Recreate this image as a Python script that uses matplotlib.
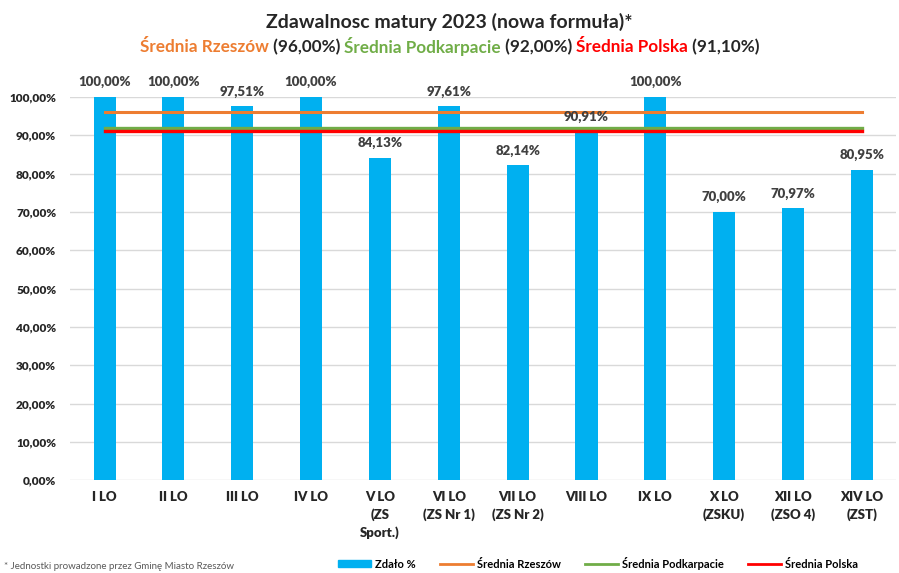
import matplotlib
matplotlib.use('Agg')
from matplotlib import pyplot as plt
from matplotlib.patches import Patch
from matplotlib.lines import Line2D
import numpy as np

schools = ["I LO", "II LO", "III LO", "IV LO", "V LO\n(ZS\nSport.)", "VI LO\n(ZS Nr 1)",
           "VII LO\n(ZS Nr 2)", "VIII LO", "IX LO", "X LO\n(ZSKU)", "XII LO\n(ZSO 4)",
           "XIV LO\n(ZST)"]
pass_rate = [100.00, 100.00, 97.51, 100.00, 84.13, 97.61, 82.14, 90.91, 100.00, 70.00, 70.97, 80.95]
avg_rzeszow = 96.00
avg_podkarpacie = 92.00
avg_polska = 91.10

BLUE = '#00B0F0'
ORANGE = '#ED7D31'
GREEN = '#70AD47'
RED = '#FF0000'

plt.rcParams['font.family'] = ['Lato', 'DejaVu Sans']


def pct(v):
    return f"{v:.2f}%".replace('.', ',')


def main():
    fig = plt.figure(figsize=(8.99, 5.73), dpi=100)
    ax = fig.add_axes([0.078, 0.162, 0.919, 0.669])

    x = np.arange(len(schools))
    ax.bar(x, pass_rate, width=0.32, color=BLUE, zorder=2)
    ax.plot(x, [avg_rzeszow] * len(x), color=ORANGE, lw=2.2, zorder=3)
    ax.plot(x, [avg_podkarpacie] * len(x), color=GREEN, lw=2.4, zorder=3)
    ax.plot(x, [avg_polska] * len(x), color=RED, lw=2.4, zorder=3)

    for xi, v in zip(x, pass_rate):
        ax.text(xi, v + 2.2, pct(v), ha='center', va='bottom', fontsize=9.5,
                fontweight='heavy', color='#404040', zorder=4, clip_on=False)

    ax.set_xlim(-0.5, len(schools) - 0.5)
    ax.set_ylim(0, 100)
    ax.set_yticks(np.arange(0, 101, 10))
    ax.set_yticklabels([pct(v) for v in np.arange(0, 101, 10)], fontsize=8.5,
                       fontweight='heavy', color='#262626')
    ax.set_xticks(x)
    ax.set_xticklabels(schools, fontsize=9.5, fontweight='heavy', color='#262626',
                       linespacing=1.5, va='top')
    ax.tick_params(length=0, pad=8)
    ax.tick_params(axis='y', pad=10)
    ax.grid(axis='y', color='#D9D9D9', lw=1, zorder=0)
    for s in ax.spines.values():
        s.set_visible(False)

    fig.text(0.5, 0.962, "Zdawalnosc matury 2023 (nowa formuła)*", ha='center', va='center',
             fontsize=14, fontweight='bold', color='#262626')

    # coloured subtitle built from pieces
    parts = [("Średnia Rzeszów", ORANGE), (" (96,00%) ", '#262626'),
             ("Średnia Podkarpacie", GREEN), (" (92,00%) ", '#262626'),
             ("Średnia Polska", RED), (" (91,10%)", '#262626')]
    fig.canvas.draw()
    r = fig.canvas.get_renderer()
    texts = []
    widths = []
    for s, c in parts:
        t = fig.text(0, 0.918, s, ha='left', va='center', fontsize=12.3, fontweight='bold', color=c)
        widths.append(t.get_window_extent(r).width / fig.bbox.width)
        texts.append(t)
    start = 0.5 - sum(widths) / 2
    for t, w in zip(texts, widths):
        t.set_x(start)
        start += w

    handles = [Patch(color=BLUE), Line2D([], [], color=ORANGE, lw=2),
               Line2D([], [], color=GREEN, lw=2), Line2D([], [], color=RED, lw=2)]
    labels = ["Zdało %", "Średnia Rzeszów", "Średnia Podkarpacie", "Średnia Polska"]
    fig.legend(handles, labels, loc='center', bbox_to_anchor=(0.665, 0.017), ncol=4,
               frameon=False, prop={'size': 8, 'weight': 'bold'}, handlelength=3,
               handleheight=0.6, columnspacing=2.2, handletextpad=0.3)

    fig.text(0.005, 0.003, "* Jednostki prowadzone przez Gminę Miasto Rzeszów",
             fontsize=7, color='#595959', ha='left', va='bottom')

    fig.savefig("out.png", dpi=100)


if __name__ == '__main__':
    main()
